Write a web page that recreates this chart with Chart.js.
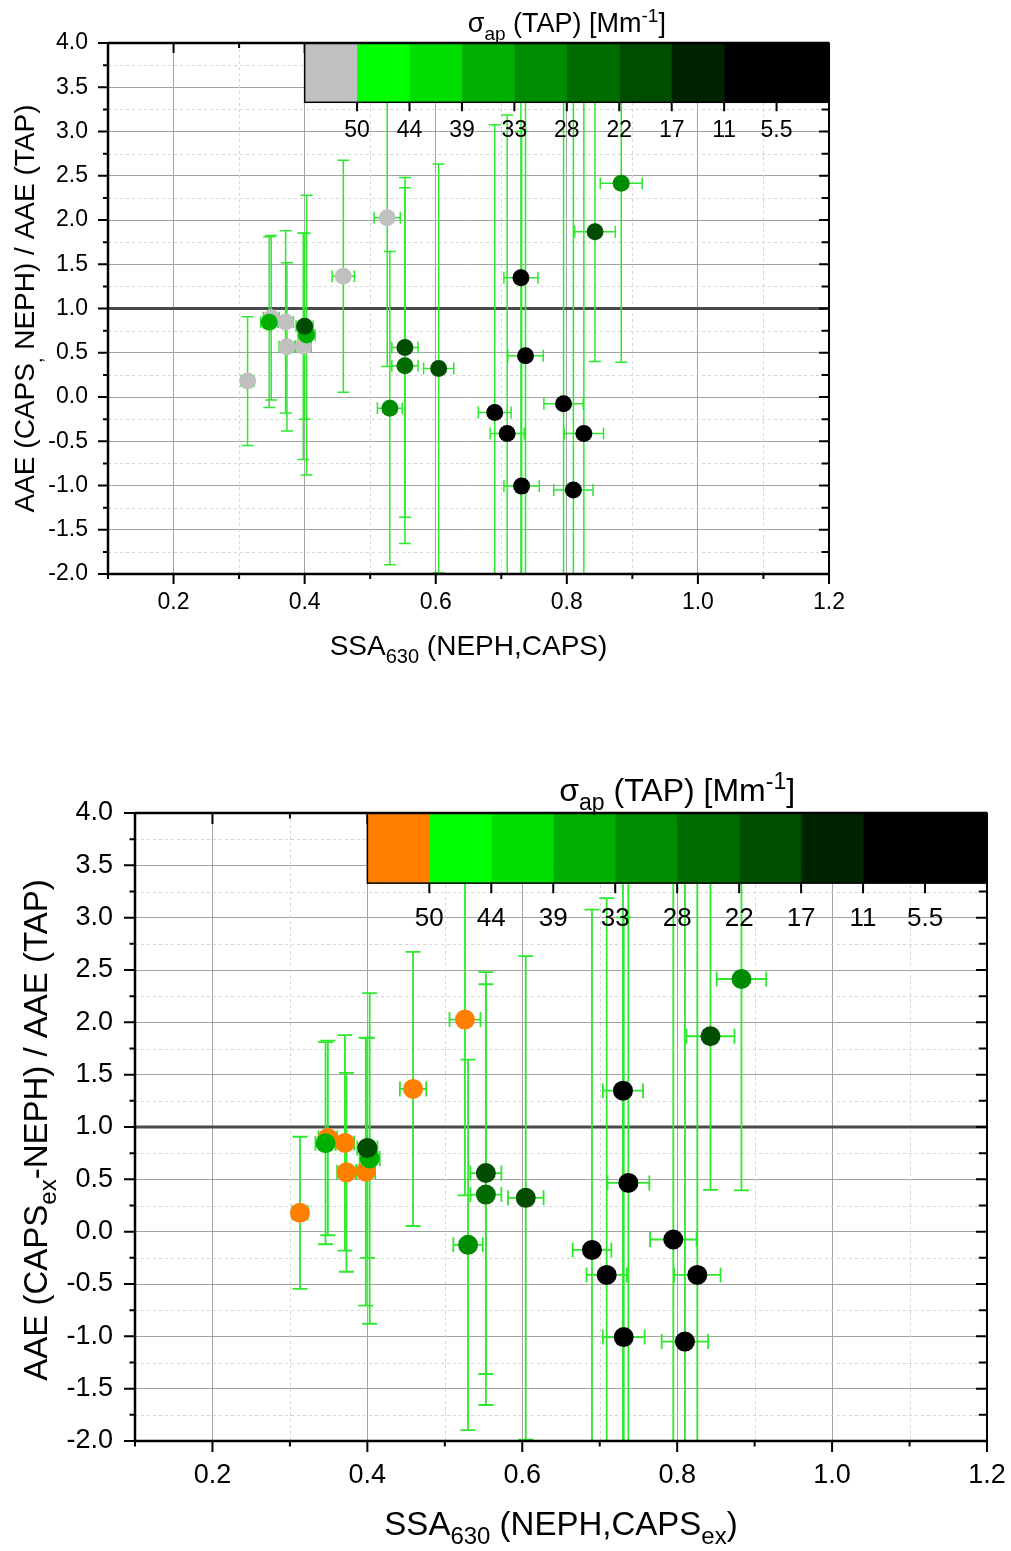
<!DOCTYPE html>
<html>
<head>
<meta charset="utf-8">
<script src="https://cdn.jsdelivr.net/npm/chart.js@4.4.1/dist/chart.umd.min.js"></script>
<style>
  body { margin: 0; background: #fff; }
  #wrap { position: relative; width: 1011px; height: 1551px; }
  canvas { position: absolute; left: 0; }
</style>
</head>
<body>
<div id="wrap">
  <canvas id="topChart" width="1011" height="700" style="top:0"></canvas>
  <canvas id="bottomChart" width="1011" height="851" style="top:700px"></canvas>
</div>
<script>
// ==========================
// Data (same points in both panels)
// ==========================
const ssa      = [0.313, 0.349, 0.371, 0.373, 0.398, 0.459, 0.526, 0.346, 0.403, 0.530, 0.883, 0.400, 0.553, 0.553, 0.6045, 0.843, 0.690, 0.709, 0.731, 0.730, 0.737, 0.795, 0.810, 0.826];
const aaeRatio = [0.18, 0.896, 0.848, 0.567, 0.574, 1.364, 2.026, 0.845, 0.70, -0.126, 2.414, 0.80, 0.56, 0.354, 0.323, 1.867, -0.174, -0.413, -1.007, 1.347, 0.466, -0.075, -1.05, -0.413];
const ssaErr   = [0.010, 0.012, 0.012, 0.012, 0.012, 0.017, 0.020, 0.013, 0.013, 0.019, 0.032, 0.013, 0.020, 0.020, 0.023, 0.031, 0.025, 0.026, 0.027, 0.026, 0.027, 0.030, 0.030, 0.030];
const aaeErr   = [0.727, 0.93, 1.03, 0.95, 1.28, 1.31, 1.68, 0.965, 1.58, 1.77, 2.02, 1.05, 1.92, 2.01, 2.31, 1.467, 3.25, 3.6, 4.01, 3.9, 3.5, 4.2, 4.8, 4.3];
// sigma_ap colour class: 0 = above 50, 1 = 50-44, 2 = 44-39, ... 8 = below 11
const sigmaBin = [0, 0, 0, 0, 0, 0, 0, 3, 3, 4, 4, 6, 6, 5, 6, 6, 8, 8, 8, 8, 8, 8, 8, 8];

const xTickValues = [0.2, 0.4, 0.6, 0.8, 1.0, 1.2];
const yTickValues = [-2.0, -1.5, -1.0, -0.5, 0.0, 0.5, 1.0, 1.5, 2.0, 2.5, 3.0, 3.5, 4.0];
const sigmaTickLabels = ['50', '44', '39', '33', '28', '22', '17', '11', '5.5'];
const greenShades = ['#00ff00', '#00dd00', '#00b000', '#008c00', '#006c00', '#004c00', '#002400', '#000000', '#000000'];

const FONT = '"Liberation Sans", Arial, sans-serif';

// ==========================
// Text helpers (sub / superscripts)
// ==========================
function partFont(p, size) {
    return ((p.sub || p.sup) ? Math.round(size * 0.72) : size) + 'px ' + FONT;
}

function richText(ctx, parts, x, y, size) {
    let w = 0;
    parts.forEach(p => { ctx.font = partFont(p, size); w += ctx.measureText(p.t).width; });
    let cx = x - w / 2;
    ctx.textAlign = 'left';
    ctx.textBaseline = 'alphabetic';
    ctx.fillStyle = '#000';
    parts.forEach(p => {
        ctx.font = partFont(p, size);
        const dy = p.sub ? size * 0.28 : (p.sup ? -size * 0.38 : 0);
        ctx.fillText(p.t, cx, y + dy);
        cx += ctx.measureText(p.t).width;
    });
}

// ==========================
// Decorations plugin
// ==========================
const decorPlugin = {
    id: 'decor',
    beforeDatasetsDraw(chart) {
        const o = chart.options.plugins.decor;
        const { ctx, chartArea: a, scales: { x, y } } = chart;
        ctx.save();
        ctx.beginPath();
        ctx.rect(a.left, a.top, a.right - a.left, a.bottom - a.top);
        ctx.clip();

        // minor dashed grid
        ctx.strokeStyle = '#d6d6d6';
        ctx.lineWidth = 1;
        ctx.setLineDash([3, 3]);
        ctx.beginPath();
        for (let v = 0.3; v < 1.15; v += 0.2) {
            const px = Math.round(x.getPixelForValue(v)) + 0.5;
            ctx.moveTo(px, a.top); ctx.lineTo(px, a.bottom);
        }
        for (let v = -1.75; v < 4; v += 0.5) {
            const py = Math.round(y.getPixelForValue(v)) + 0.5;
            ctx.moveTo(a.left, py); ctx.lineTo(a.right, py);
        }
        ctx.stroke();
        ctx.setLineDash([]);

        // reference line at ratio = 1
        ctx.strokeStyle = '#4a4a4a';
        ctx.lineWidth = 3;
        ctx.beginPath();
        ctx.moveTo(a.left, y.getPixelForValue(1)); ctx.lineTo(a.right, y.getPixelForValue(1));
        ctx.stroke();

        // error bars
        ctx.strokeStyle = '#2ee82e';
        ctx.lineWidth = o.errWidth;
        const c = o.cap;
        ssa.forEach((sx, i) => {
            const px = x.getPixelForValue(sx);
            const py = y.getPixelForValue(aaeRatio[i]);
            const yt = y.getPixelForValue(aaeRatio[i] + aaeErr[i]);
            const yb = y.getPixelForValue(aaeRatio[i] - aaeErr[i]);
            const xl = x.getPixelForValue(sx - ssaErr[i]);
            const xr = x.getPixelForValue(sx + ssaErr[i]);
            ctx.beginPath();
            ctx.moveTo(px, yt); ctx.lineTo(px, yb);
            ctx.moveTo(px - c, yt); ctx.lineTo(px + c, yt);
            ctx.moveTo(px - c, yb); ctx.lineTo(px + c, yb);
            ctx.moveTo(xl, py); ctx.lineTo(xr, py);
            ctx.moveTo(xl, py - c); ctx.lineTo(xl, py + c);
            ctx.moveTo(xr, py - c); ctx.lineTo(xr, py + c);
            ctx.stroke();
        });
        ctx.restore();
    },
    afterDatasetsDraw(chart) {
        const o = chart.options.plugins.decor;
        const { ctx, chartArea: a, scales: { x, y } } = chart;
        ctx.save();

        // tick marks: left/bottom outward, top/right inward
        ctx.strokeStyle = '#000';
        ctx.lineWidth = 2;
        ctx.beginPath();
        for (let k = 0; k <= 24; k++) {
            const v = -2 + k * 0.25;
            const py = y.getPixelForValue(v);
            const major = k % 2 === 0;
            ctx.moveTo(a.left, py); ctx.lineTo(a.left - (major ? o.tickLen : o.tickLen / 2), py);
            ctx.moveTo(a.right, py); ctx.lineTo(a.right - (major ? o.tickLen : o.tickLen * 0.75), py);
        }
        for (let k = 0; k <= 11; k++) {
            const v = 0.1 + k * 0.1;
            const px = x.getPixelForValue(v);
            const major = k % 2 === 1;
            ctx.moveTo(px, a.bottom); ctx.lineTo(px, a.bottom + (major ? o.tickLen : o.tickLen / 2));
            ctx.moveTo(px, a.top); ctx.lineTo(px, a.top + (major ? o.tickLen : o.tickLen / 2));
        }
        ctx.stroke();

        // colour bar
        const cx0 = x.getPixelForValue(0.4);
        const cx1 = x.getPixelForValue(1.2);
        const cy0 = y.getPixelForValue(4.0);
        const cy1 = y.getPixelForValue(3.33);
        const colours = [o.firstColour].concat(greenShades);
        const segW = (cx1 - cx0) / colours.length;
        colours.forEach((col, i) => {
            ctx.fillStyle = col;
            ctx.fillRect(cx0 + i * segW, cy0, segW + 0.5, cy1 - cy0);
        });
        ctx.strokeStyle = '#000';
        ctx.lineWidth = 1.5;
        ctx.strokeRect(cx0, cy0, cx1 - cx0, cy1 - cy0);
        ctx.lineWidth = 2;
        ctx.beginPath();
        sigmaTickLabels.forEach((lab, i) => {
            const px = cx0 + (i + 1) * segW;
            ctx.moveTo(px, cy1); ctx.lineTo(px, cy1 + o.cbTick);
        });
        ctx.stroke();
        ctx.fillStyle = '#000';
        ctx.font = o.cbLabelSize + 'px ' + FONT;
        ctx.textAlign = 'center';
        ctx.textBaseline = 'alphabetic';
        sigmaTickLabels.forEach((lab, i) => {
            ctx.fillText(lab, cx0 + (i + 1) * segW, cy1 + o.cbLabelOffset);
        });

        // axis frame
        ctx.strokeStyle = '#000';
        ctx.lineWidth = 2.5;
        ctx.beginPath();
        ctx.moveTo(a.left, a.top); ctx.lineTo(a.right, a.top);
        ctx.moveTo(a.left, a.top); ctx.lineTo(a.left, a.bottom); ctx.lineTo(a.right, a.bottom);
        ctx.stroke();
        ctx.lineWidth = 2;
        ctx.beginPath();
        ctx.moveTo(a.right, a.top); ctx.lineTo(a.right, a.bottom);
        ctx.stroke();

        // titles
        const midX = (a.left + a.right) / 2;
        richText(ctx, o.xTitle, midX, a.bottom + o.xTitleOffset, o.titleSize);
        richText(ctx, o.cbTitle, x.getPixelForValue(0.8), a.top - o.cbTitleOffset, o.cbTitleSize);
        ctx.save();
        ctx.translate(o.yTitleX, (a.top + a.bottom) / 2 + o.yTitleShift);
        ctx.rotate(-Math.PI / 2);
        richText(ctx, o.yTitle, 0, 0, o.yTitleSize);
        ctx.restore();

        ctx.restore();
    }
};

// ==========================
// Chart factory
// ==========================
function makeChart(id, cfg) {
    const points = ssa.map((v, i) => ({ x: v, y: aaeRatio[i] }));
    const colours = sigmaBin.map(b => b === 0 ? cfg.firstColour : greenShades[b - 1]);

    return new Chart(document.getElementById(id), {
        type: 'scatter',
        data: {
            datasets: [{
                data: points,
                pointRadius: cfg.radius,
                pointBackgroundColor: colours,
                pointBorderColor: colours,
                pointBorderWidth: 0
            }]
        },
        options: {
            responsive: false,
            animation: false,
            events: [],
            layout: { padding: { top: cfg.top, right: cfg.right, left: 0, bottom: 0 } },
            plugins: {
                legend: { display: false },
                tooltip: { enabled: false },
                decor: cfg
            },
            scales: {
                x: {
                    type: 'linear', min: 0.1, max: 1.2,
                    afterBuildTicks: s => { s.ticks = xTickValues.map(v => ({ value: v })); },
                    afterFit: s => { s.height = cfg.xAxisH; s.paddingLeft = 0; s.paddingRight = 0; },
                    ticks: {
                        color: '#000', font: { family: FONT, size: cfg.tickSize },
                        padding: cfg.xTickPad, maxRotation: 0, autoSkip: false,
                        callback: v => v.toFixed(1)
                    },
                    grid: { color: '#a3a3a3', lineWidth: 1, drawTicks: false },
                    border: { display: false }
                },
                y: {
                    type: 'linear', min: -2, max: 4,
                    afterBuildTicks: s => { s.ticks = yTickValues.map(v => ({ value: v })); },
                    afterFit: s => { s.width = cfg.yAxisW; s.paddingTop = 0; s.paddingBottom = 0; },
                    ticks: {
                        color: '#000', font: { family: FONT, size: cfg.tickSize },
                        padding: cfg.yTickPad, autoSkip: false,
                        callback: v => v.toFixed(1)
                    },
                    grid: { color: '#a3a3a3', lineWidth: 1, drawTicks: false },
                    border: { display: false }
                }
            }
        },
        plugins: [decorPlugin]
    });
}

makeChart('topChart', {
    top: 43, right: 182, yAxisW: 108, xAxisH: 126,
    radius: 8.5, errWidth: 1.5, cap: 6, tickLen: 10,
    tickSize: 23, xTickPad: 15, yTickPad: 20,
    firstColour: '#c0c0c0',
    cbTick: 9, cbLabelSize: 23, cbLabelOffset: 35,
    titleSize: 28, xTitleOffset: 81,
    yTitleSize: 28, yTitleX: 34, yTitleShift: 0,
    cbTitleSize: 27, cbTitleOffset: 11,
    xTitle: [{ t: 'SSA' }, { t: '630', sub: true }, { t: ' (NEPH,CAPS)' }],
    yTitle: [{ t: 'AAE (CAPS' }, { t: ',', sub: true }, { t: ' NEPH) / AAE (TAP)' }],
    cbTitle: [{ t: 'σ' }, { t: 'ap', sub: true }, { t: ' (TAP) [Mm' }, { t: '-1', sup: true }, { t: ']' }]
});

makeChart('bottomChart', {
    top: 113, right: 24, yAxisW: 135, xAxisH: 110,
    radius: 10, errWidth: 1.8, cap: 7.5, tickLen: 11,
    tickSize: 27, xTickPad: 18, yTickPad: 22,
    firstColour: '#ff8000',
    cbTick: 10, cbLabelSize: 26, cbLabelOffset: 43,
    titleSize: 33, xTitleOffset: 94,
    yTitleSize: 33, yTitleX: 47, yTitleShift: 3,
    cbTitleSize: 32, cbTitleOffset: 12,
    xTitle: [{ t: 'SSA' }, { t: '630', sub: true }, { t: ' (NEPH,CAPS' }, { t: 'ex', sub: true }, { t: ')' }],
    yTitle: [{ t: 'AAE (CAPS' }, { t: 'ex', sub: true }, { t: '-NEPH) / AAE (TAP)' }],
    cbTitle: [{ t: 'σ' }, { t: 'ap', sub: true }, { t: ' (TAP) [Mm' }, { t: '-1', sup: true }, { t: ']' }]
});
</script>
</body>
</html>
